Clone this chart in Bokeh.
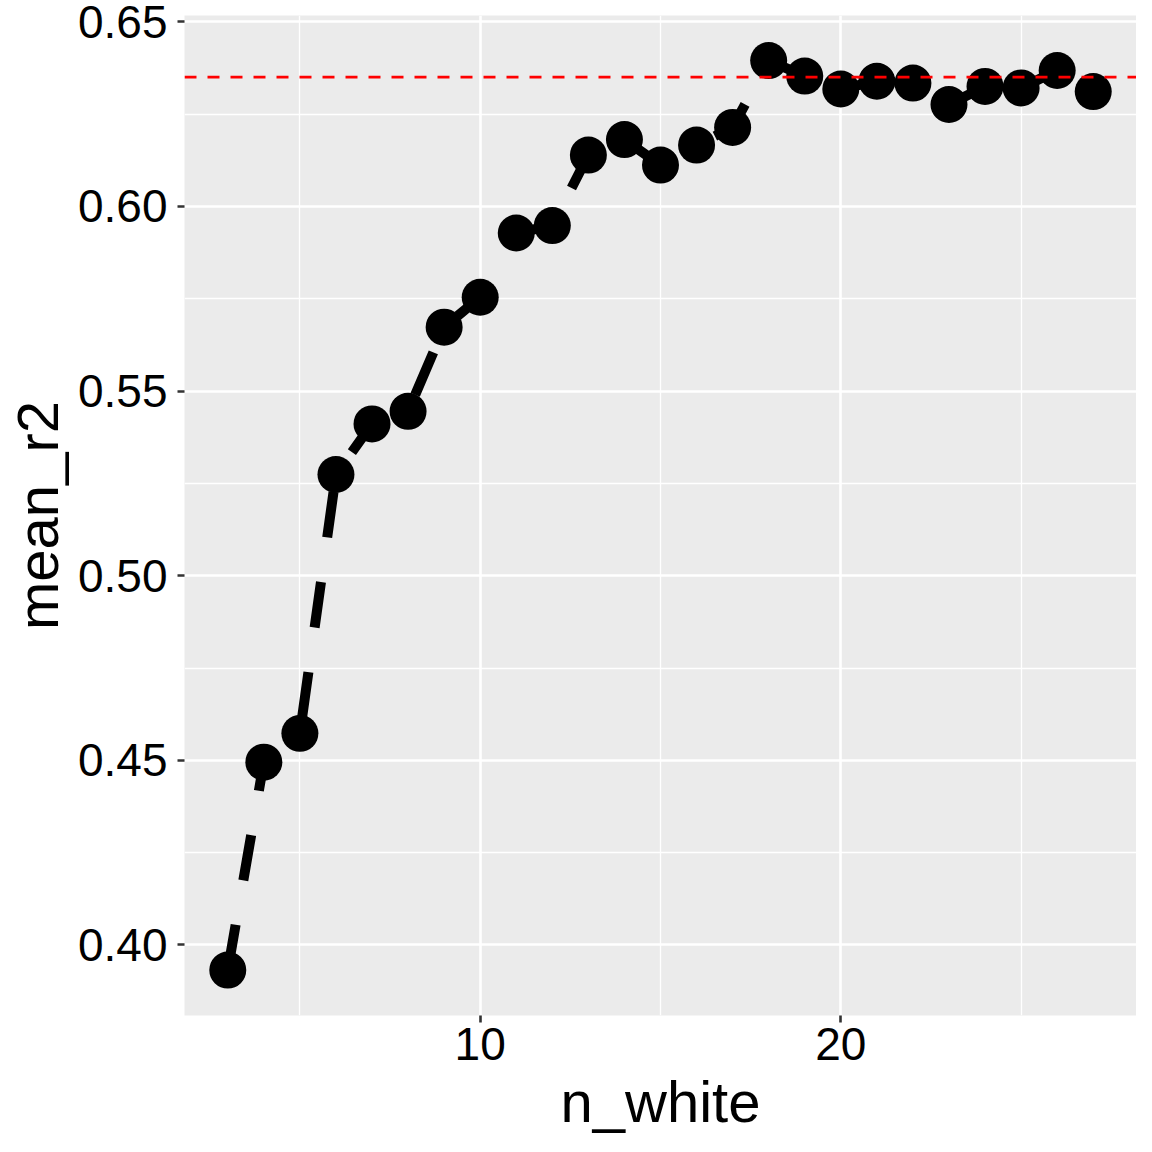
from bokeh.plotting import figure
from bokeh.models import Span, FixedTicker, Range1d, NumeralTickFormatter
from bokeh.embed import file_html
from bokeh.resources import INLINE

n_white = list(range(3, 28))
mean_r2 = [0.3932, 0.4495, 0.4573, 0.5274, 0.5411, 0.5445, 0.5673, 0.5754,
           0.5928, 0.5948, 0.6139, 0.6181, 0.6112, 0.6166, 0.6214, 0.6395,
           0.6353, 0.6318, 0.6339, 0.6334, 0.6276, 0.6325, 0.6321, 0.6368,
           0.6311]
ref_line = 0.635
x_ticks = [10, 20]
x_minor = [5, 15, 25]
y_ticks = [0.40, 0.45, 0.50, 0.55, 0.60, 0.65]
y_minor = [0.425, 0.475, 0.525, 0.575, 0.625]
x_label = "n_white"
y_label = "mean_r2"

FONT = "Liberation Sans"

p = figure(width=1136, height=1140, output_backend="svg", toolbar_location=None,
           x_range=Range1d(1.8, 28.2), y_range=Range1d(0.3809, 0.6517),
           min_border_left=184, min_border_right=0, min_border_top=15,
           min_border_bottom=125)
p.background_fill_color = "#EBEBEB"
p.border_fill_color = "white"
p.outline_line_color = None

p.xaxis.ticker = FixedTicker(ticks=x_ticks, minor_ticks=x_minor)
p.yaxis.ticker = FixedTicker(ticks=y_ticks, minor_ticks=y_minor)
p.yaxis.formatter = NumeralTickFormatter(format="0.00")

for ax in (p.xaxis, p.yaxis):
    ax.axis_line_color = None
    ax.major_tick_line_color = "#333333"
    ax.major_tick_line_width = 2.6
    ax.major_tick_out = 7
    ax.major_tick_in = 0
    ax.minor_tick_line_color = None
    ax.major_label_text_font = FONT
    ax.major_label_text_font_size = "46px"
    ax.major_label_text_color = "black"
    ax.axis_label_text_font = FONT
    ax.axis_label_text_font_size = "58px"
    ax.axis_label_text_font_style = "normal"
    ax.axis_label_text_color = "black"

p.xaxis.axis_label = x_label
p.yaxis.axis_label = y_label
p.xaxis.major_label_standoff = 5
p.yaxis.major_label_standoff = 10
p.xaxis.axis_label_standoff = 6
p.yaxis.axis_label_standoff = 5

p.grid.grid_line_color = "white"
p.grid.grid_line_width = 2.6
p.grid.minor_grid_line_color = "white"
p.grid.minor_grid_line_width = 1.3

p.line(n_white, mean_r2, line_color="black", line_width=10, line_dash="46 45")
p.scatter(n_white, mean_r2, size=37, fill_color="black", line_color=None)

p.add_layout(Span(location=ref_line, dimension="width", line_color="red",
                  line_width=2.8, line_dash="12 11"))

open("out.html", "w").write(file_html(p, INLINE))
